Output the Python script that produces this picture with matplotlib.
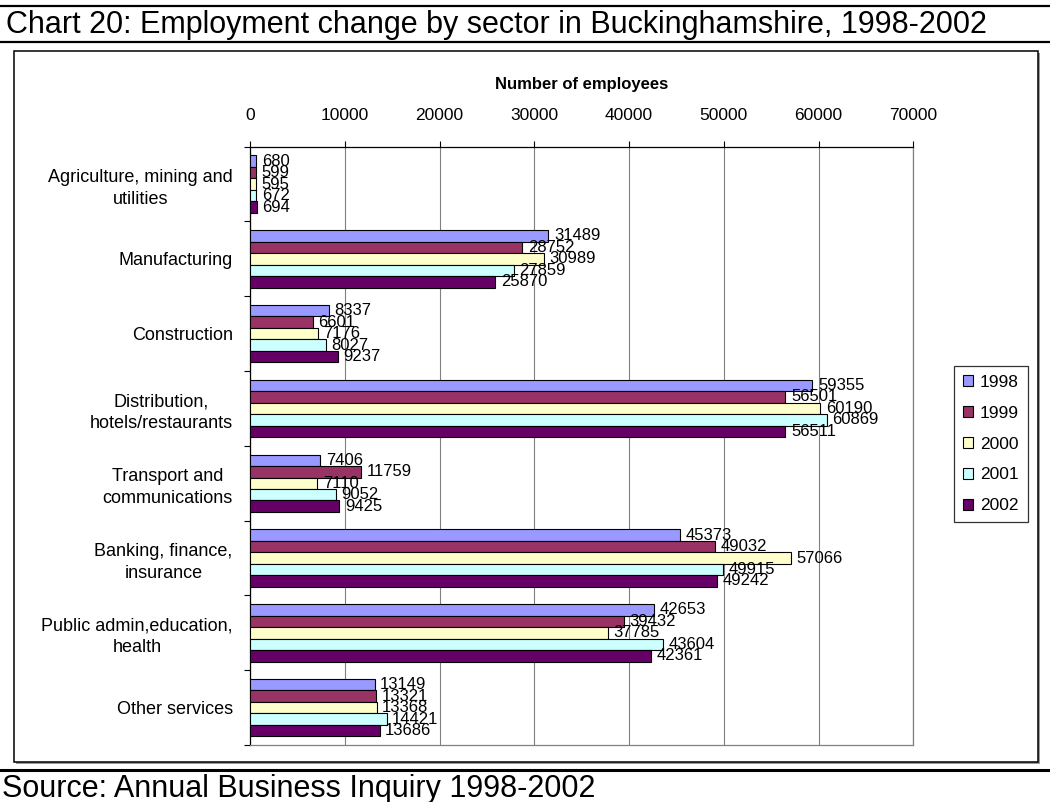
import numpy as np
import matplotlib
matplotlib.use("Agg")
from matplotlib import pyplot as plt
from matplotlib.patches import Rectangle
from matplotlib.lines import Line2D

plt.rcParams['font.family'] = ['Liberation Sans', 'DejaVu Sans']

sectors = [
    "Agriculture, mining and\nutilities",
    "Manufacturing",
    "Construction",
    "Distribution,\nhotels/restaurants",
    "Transport and\ncommunications",
    "Banking, finance,\ninsurance",
    "Public admin,education,\nhealth",
    "Other services",
]
years = ["1998", "1999", "2000", "2001", "2002"]
emp_1998 = [680, 31489, 8337, 59355, 7406, 45373, 42653, 13149]
emp_1999 = [599, 28752, 6601, 56501, 11759, 49032, 39432, 13321]
emp_2000 = [595, 30989, 7176, 60190, 7110, 57066, 37785, 13368]
emp_2001 = [672, 27859, 8027, 60869, 9052, 49915, 43604, 14421]
emp_2002 = [694, 25870, 9237, 56511, 9425, 49242, 42361, 13686]
series = [emp_1998, emp_1999, emp_2000, emp_2001, emp_2002]
colors = ["#9999FF", "#993366", "#FFFFCC", "#CCFFFF", "#660066"]

W, H = 1050, 802
fig = plt.figure(figsize=(W / 100, H / 100), dpi=100)

# rules across the page and the chart frame
fig.add_artist(Line2D([0, 1], [1 - 6 / H, 1 - 6 / H], color="black", lw=1.6))
fig.add_artist(Line2D([0, 1], [1 - 42 / H, 1 - 42 / H], color="black", lw=1.6))
fig.add_artist(Line2D([0, 1], [1 - 770 / H, 1 - 770 / H], color="black", lw=2.2))
fig.add_artist(Rectangle((16 / W, 1 - 764 / H), 1024 / W, 711 / H,
                         facecolor="#9a9a9a", edgecolor="none", zorder=0))
fig.add_artist(Rectangle((14 / W, 1 - 762 / H), 1024 / W, 711 / H,
                         facecolor="white", edgecolor="black", lw=1.1, zorder=0.5))

fig.text(6 / W, 1 - 33 / H, "Chart 20: Employment change by sector in Buckinghamshire, 1998-2002",
         fontsize=22, va="baseline", ha="left")
fig.text(2 / W, 1 - 797 / H, "Source: Annual Business Inquiry 1998-2002",
         fontsize=22, va="baseline", ha="left")

ax = fig.add_axes([250 / W, 1 - 745 / H, (913.3 - 250) / W, (745 - 146.7) / H])
ax.set_zorder(2)

n = len(sectors)
y = np.arange(n)
bh = 0.1535
for j, (vals, c, yr) in enumerate(zip(series, colors, years)):
    pos = y + (j - 2) * bh
    ax.barh(pos, vals, height=bh, color=c, edgecolor="black", linewidth=0.8,
            label=yr, zorder=3)
    for p, v in zip(pos, vals):
        ax.annotate(str(v), (v, p), xytext=(4, 0), textcoords="offset points",
                    va="center", ha="left", fontsize=12, zorder=4)

ax.set_xlim(0, 70000)
ax.set_ylim(n - 0.5, -0.5)
ax.set_xticks(np.arange(0, 70001, 10000))
ax.xaxis.tick_top()
ax.tick_params(axis="x", direction="out", length=4.5, width=0.8, pad=12.5,
               labelsize=12.5, colors="black")
ax.xaxis.grid(True, color="#808080", lw=0.8, zorder=1)

ax.set_yticks(y)
ax.set_yticklabels(sectors, fontsize=13, linespacing=1.35)
for lbl in ax.get_yticklabels():
    lbl.set_multialignment("center")
ax.set_yticks(np.arange(-0.5, n, 1), minor=True)
ax.tick_params(axis="y", which="major", length=0, pad=12.5)
ax.tick_params(axis="y", which="minor", direction="out", length=4.5, width=0.8)

for side in ["top", "left"]:
    ax.spines[side].set_color("black")
    ax.spines[side].set_linewidth(0.9)
for side in ["right", "bottom"]:
    ax.spines[side].set_color("#808080")
    ax.spines[side].set_linewidth(0.9)

fig.text(582 / W, 1 - 89 / H, "Number of employees", fontsize=12, fontweight="bold",
         ha="center", va="baseline")

leg = fig.legend(loc="center left", bbox_to_anchor=(954 / W, 1 - 444 / H),
                 fontsize=12.5, frameon=True, fancybox=False, shadow=False,
                 handlelength=0.6, handleheight=0.6, handletextpad=0.4,
                 labelspacing=0.92, borderpad=0.5, borderaxespad=0)
leg.get_frame().set_edgecolor("black")
leg.get_frame().set_linewidth(0.9)
leg.set_zorder(5)

fig.savefig("out.png", dpi=100)
